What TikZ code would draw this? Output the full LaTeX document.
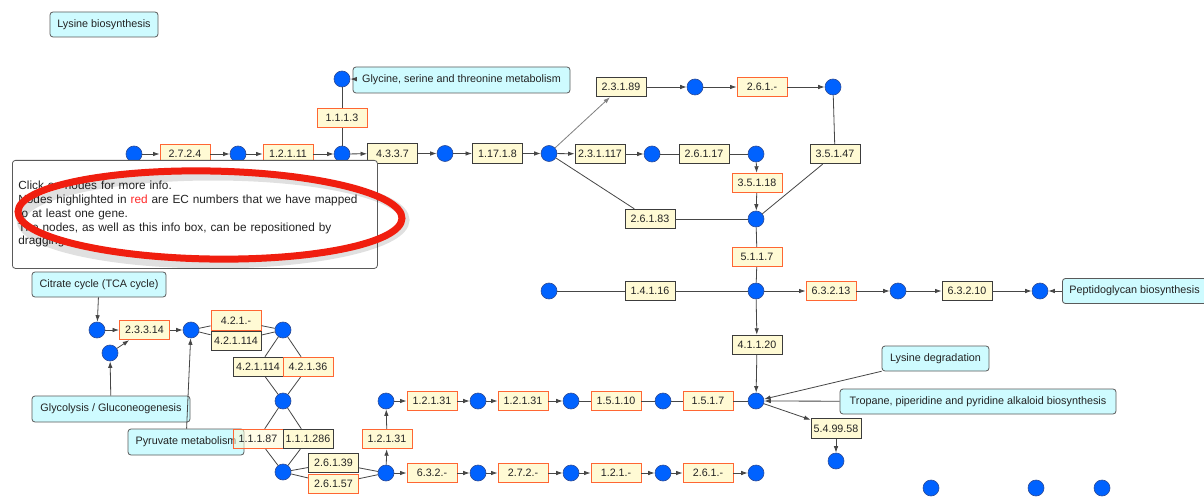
\documentclass[tikz,border=0pt]{standalone}
\usepackage{fontspec}
\setmainfont{Liberation Sans}
\usetikzlibrary{arrows.meta}
\definecolor{ecfill}{RGB}{255,250,212}
\definecolor{ecred}{RGB}{255,102,51}
\definecolor{ecblk}{RGB}{60,60,60}
\definecolor{metfill}{RGB}{0,98,255}
\definecolor{metdraw}{RGB}{45,75,150}
\definecolor{pwfill}{RGB}{206,251,255}
\definecolor{pwdraw}{RGB}{90,90,90}
\definecolor{edgec}{RGB}{70,70,70}
\definecolor{txt}{RGB}{35,35,35}
\definecolor{annred}{RGB}{240,30,15}
\definecolor{wordred}{RGB}{255,40,40}
\begin{document}
\begin{tikzpicture}[x=1pt,y=-1pt,
 met/.style={circle,fill=metfill,draw=metdraw,line width=0.6pt,minimum size=16pt,inner sep=0pt},
 ec/.style={rectangle,fill=ecfill,draw=ecblk,line width=0.9pt,minimum width=50pt,minimum height=19.5pt,inner sep=0pt,font=\fontsize{10.7}{12}\selectfont,text=txt},
 ecr/.style={ec,draw=ecred},
 pw/.style={rectangle,rounded corners=3pt,fill=pwfill,draw=pwdraw,line width=0.8pt,minimum height=25pt,inner xsep=0pt,font=\fontsize{10.8}{13}\selectfont,text=txt},
 ln/.style={draw=edgec,line width=0.8pt},
 ar/.style={ln,-{Latex[length=6.5pt,width=4.5pt]}},
]
\useasboundingbox (0,0) rectangle (1204,497);
\fill[white] (0,0) rectangle (1204,497);

% pathway boxes
\node[pw,minimum width=108pt] (pLys) at (104,24.5) {Lysine biosynthesis};
\node[pw,minimum width=217pt,minimum height=26pt] (pGly) at (461.5,80) {Glycine, serine and threonine metabolism};
\node[pw,anchor=west,inner xsep=7pt] (pPep) at (1062,291) {Peptidoglycan biosynthesis};
\node[pw,minimum width=107pt] (pLdeg) at (935.5,358.5) {Lysine degradation};
\node[pw,minimum width=276pt] (pTro) at (978,401.5) {Tropane, piperidine and pyridine alkaloid biosynthesis};
\node[pw,minimum width=134pt] (pTCA) at (99,284.5) {Citrate cycle (TCA cycle)};
\node[pw,minimum width=158pt,minimum height=26pt] (pGlyc) at (111,409) {Glycolysis / Gluconeogenesis};
\node[pw,minimum width=116pt,minimum height=26pt] (pPyr) at (186,442) {Pyruvate metabolism};

% metabolites
\node[met] (c1) at (134,154) {};
\node[met] (c2) at (238,154) {};
\node[met] (c3) at (342,154) {};
\node[met] (c4) at (445,153.5) {};
\node[met] (c5) at (549,153.5) {};
\node[met] (c6) at (652,154) {};
\node[met] (c7) at (756,154) {};
\node[met] (c8) at (342,79) {};
\node[met] (c9) at (695,87) {};
\node[met] (c10) at (833,87) {};
\node[met] (c11) at (756,219) {};
\node[met] (c12) at (756,291) {};
\node[met] (c13) at (549,291) {};
\node[met] (c14) at (898,291) {};
\node[met] (c15) at (1040,291) {};
\node[met] (c16) at (756,401) {};
\node[met] (c17) at (836,461) {};
\node[met] (c18) at (386,401) {};
\node[met] (c19) at (478,401) {};
\node[met] (c20) at (571,401) {};
\node[met] (c21) at (663,401) {};
\node[met] (c22) at (386,473) {};
\node[met] (c23) at (478,473) {};
\node[met] (c24) at (571,473) {};
\node[met] (c25) at (663,473) {};
\node[met] (c26) at (756,473) {};
\node[met] (c27) at (97,330) {};
\node[met] (c28) at (110,353) {};
\node[met] (c29) at (191,330) {};
\node[met] (c30) at (283,330) {};
\node[met] (c31) at (283,401) {};
\node[met] (c32) at (283,472) {};
\node[met] (c33) at (931,488) {};
\node[met] (c34) at (1036,488) {};
\node[met] (c35) at (1102,488) {};

% enzymes
\node[ecr] (e2724) at (185,154) {2.7.2.4};
\node[ecr] (e12111) at (288,154) {1.2.1.11};
\node[ecr] (e1113) at (342,118) {1.1.1.3};
\node[ec] (e4337) at (392.5,153.5) {4.3.3.7};
\node[ec] (e11718) at (497.5,153.5) {1.17.1.8};
\node[ec] (e231117) at (600,154) {2.3.1.117};
\node[ec] (e26117) at (704,154) {2.6.1.17};
\node[ec] (e23189) at (621,87) {2.3.1.89};
\node[ecr] (e261a) at (762,87) {2.6.1.-};
\node[ec] (e35147) at (835,154) {3.5.1.47};
\node[ecr] (e35118) at (757,183) {3.5.1.18};
\node[ec] (e26183) at (650,219) {2.6.1.83};
\node[ecr] (e5117) at (757,257) {5.1.1.7};
\node[ec] (e14116) at (650,291) {1.4.1.16};
\node[ecr] (e63213) at (831,291) {6.3.2.13};
\node[ec] (e63210) at (967,291) {6.3.2.10};
\node[ec] (e41120) at (757,345) {4.1.1.20};
\node[ec] (e549958) at (836,428.5) {5.4.99.58};
\node[ecr] (e12131a) at (432,401) {1.2.1.31};
\node[ecr] (e12131b) at (523,401) {1.2.1.31};
\node[ecr] (e15110) at (616,401) {1.5.1.10};
\node[ecr] (e1517) at (708,401) {1.5.1.7};
\node[ecr] (e12131c) at (387,439) {1.2.1.31};
\node[ecr] (e632a) at (432,473) {6.3.2.-};
\node[ecr] (e272a) at (523,473) {2.7.2.-};
\node[ecr] (e121a) at (616,473) {1.2.1.-};
\node[ecr] (e261b) at (708,473) {2.6.1.-};
\node[ecr] (e23314) at (144.5,330) {2.3.3.14};
\node[ecr] (e421a) at (236,320.5) {4.2.1.-};
\node[ec] (e421114a) at (236,341) {4.2.1.114};
\node[ec] (e421114b) at (258,367) {4.2.1.114};
\node[ecr] (e42136) at (308,367) {4.2.1.36};
\node[ecr,fill opacity=0.55,text opacity=1] (e11187) at (258,439) {1.1.1.87};
\node[ec] (e111286) at (308,439) {1.1.1.286};
\node[ec] (e26139) at (333.5,463) {2.6.1.39};
\node[ecr] (e26157) at (333.5,484) {2.6.1.57};

% connectors: top row
\draw[ar] (c1) -- (e2724);
\draw[ar] (e2724) -- (c2);
\draw[ar] (c2) -- (e12111);
\draw[ar] (e12111) -- (c3);
\draw[ar] (c3) -- (e4337);
\draw[ar] (e4337) -- (c4);
\draw[ar] (c4) -- (e11718);
\draw[ar] (e11718) -- (c5);
\draw[ar] (c5) -- (e231117);
\draw[ar] (e231117) -- (c6);
\draw[ln] (c6) -- (e26117);
\draw[ln] (e26117) -- (c7);
\draw[ln] (c3) -- (e1113);
\draw[ln] (e1113) -- (c8);
\draw[ar] (pGly) -- (c8);
\draw[ar,draw=gray] (c5) -- (e23189);
\draw[ar] (e23189) -- (c9);
\draw[ar] (c9) -- (e261a);
\draw[ar] (e261a) -- (c10);
\draw[ln] (c10) -- (e35147);
\draw[ln] (e35147) -- (c11);
\draw[ar] (c7) -- (e35118);
\draw[ar] (e35118) -- (c11);
\draw[ln] (c5) -- (e26183);
\draw[ln] (e26183) -- (c11);
\draw[ln] (c11) -- (e5117);
\draw[ln] (e5117) -- (c12);
\draw[ln] (c13) -- (e14116);
\draw[ln] (e14116) -- (c12);
\draw[ar] (c12) -- (e63213);
\draw[ar] (e63213) -- (c14);
\draw[ar] (c14) -- (e63210);
\draw[ar] (e63210) -- (c15);
\draw[ar] (pPep) -- (c15);
\draw[ar] (c12) -- (e41120);
\draw[ar] (e41120) -- (c16);
\draw[ar] (pLdeg) -- (c16);
\draw[ar] (pTro) -- (c16);
\draw[ar] (c16) -- (e549958);
\draw[ar] (e549958) -- (c17);
% middle row
\draw[ar] (c18) -- (e12131a);
\draw[ar] (e12131a) -- (c19);
\draw[ar] (c19) -- (e12131b);
\draw[ar] (e12131b) -- (c20);
\draw[ln] (c20) -- (e15110);
\draw[ln] (e15110) -- (c21);
\draw[ln] (c21) -- (e1517);
\draw[ln] (e1517) -- (c16);
\draw[ar] (c22) -- (e12131c);
\draw[ar] (e12131c) -- (c18);
% bottom row
\draw[ar] (c22) -- (e632a);
\draw[ar] (e632a) -- (c23);
\draw[ar] (c23) -- (e272a);
\draw[ar] (e272a) -- (c24);
\draw[ar] (c24) -- (e121a);
\draw[ar] (e121a) -- (c25);
\draw[ar] (c25) -- (e261b);
\draw[ar] (e261b) -- (c26);
% left part
\draw[ar] (pTCA) -- (c27);
\draw[ar] (pGlyc) -- (c28);
\draw[ar] (c27) -- (e23314);
\draw[ar] (c28) -- (e23314);
\draw[ar] (e23314) -- (c29);
\draw[ar] (pPyr) -- (c29);
\draw[ln] (c29) -- (e421a);
\draw[ln] (c29) -- (e421114a);
\draw[ln] (e421a) -- (c30);
\draw[ln] (e421114a) -- (c30);
\draw[ln] (c30) -- (e421114b);
\draw[ln] (c30) -- (e42136);
\draw[ln] (e421114b) -- (c31);
\draw[ln] (e42136) -- (c31);
\draw[ln] (c31) -- (e11187);
\draw[ln] (c31) -- (e111286);
\draw[ln] (e11187) -- (c32);
\draw[ln] (e111286) -- (c32);
\draw[ln] (c32) -- (e26139);
\draw[ln] (c32) -- (e26157);
\draw[ln] (e26139) -- (c22);
\draw[ln] (e26157) -- (c22);

% info box
\node[draw=pwdraw,line width=0.8pt,fill=white,rounded corners=3pt,anchor=north west,
  text width=353pt,inner xsep=6pt,inner ysep=0pt,minimum height=108pt,align=left,
  font=\fontsize{11.8}{13.75}\selectfont,text=txt] (info) at (12,160)
  {Click on nodes for more info.\\
   Nodes highlighted in \textcolor{wordred}{red} are EC numbers that we have mapped\\
   to at least one gene.\\
   The nodes, as well as this info box, can be repositioned by\\
   dragging.};

% red annotation ellipse
\draw[black,opacity=0.12,line width=9pt] (213,220) ellipse [x radius=192pt, y radius=44pt];
\draw[annred,line width=7pt,rotate around={-1:(210,215)}] (210,215) ellipse [x radius=192pt, y radius=44pt];
\end{tikzpicture}
\end{document}
